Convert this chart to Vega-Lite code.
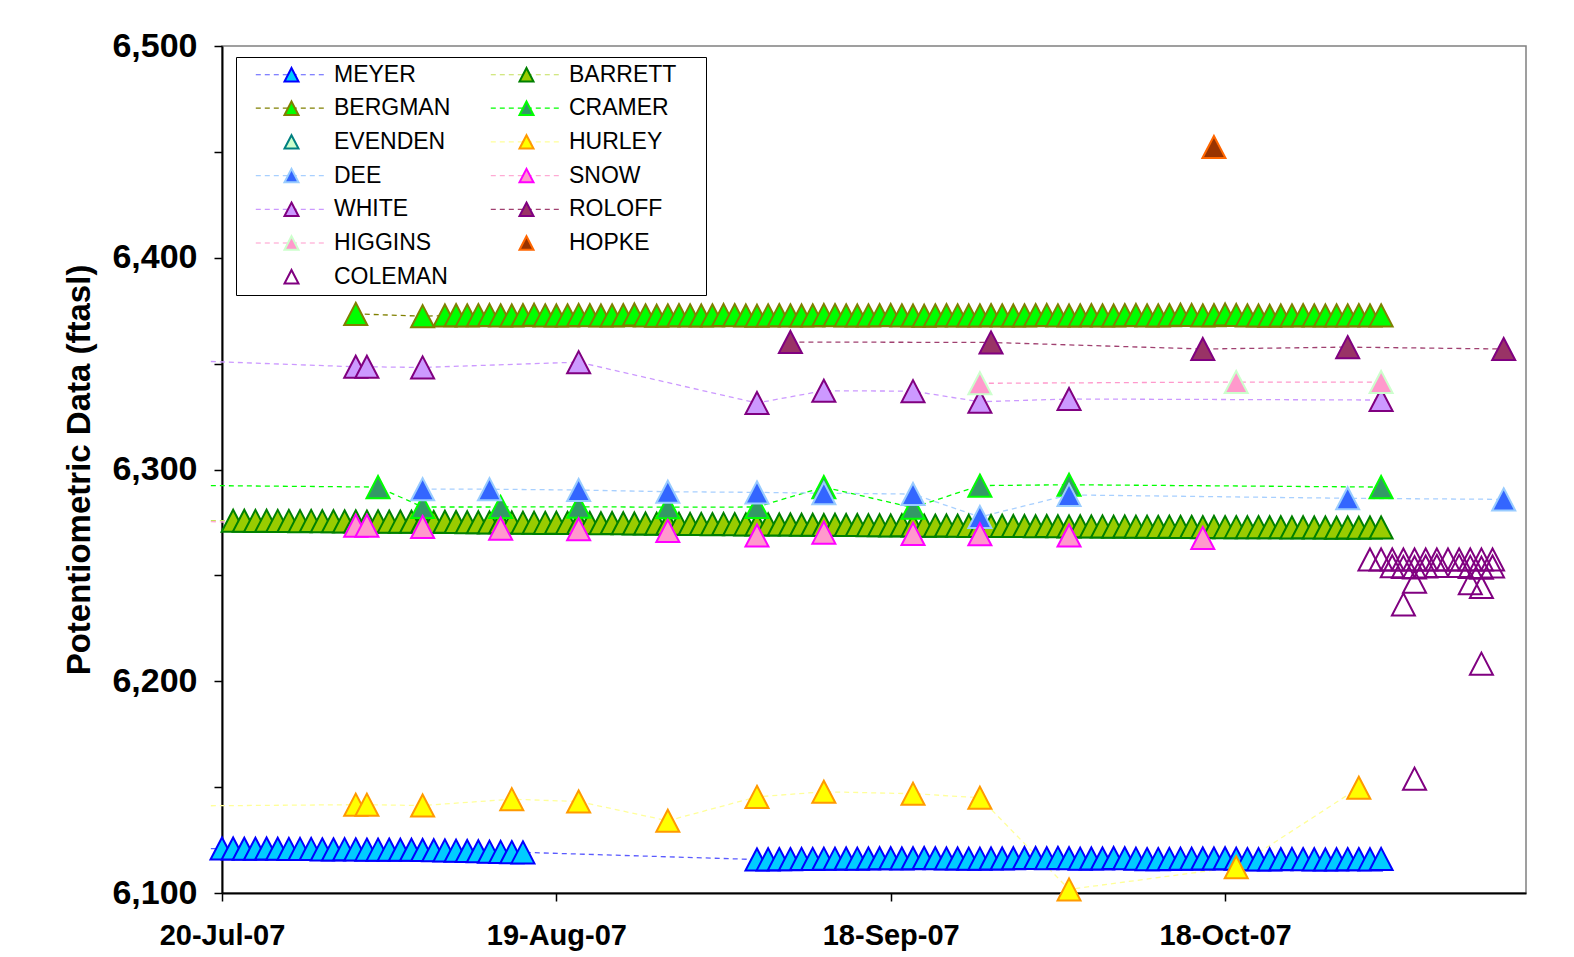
{
  "$schema": "https://vega.github.io/schema/vega-lite/v6.json",
  "width": 1304,
  "height": 847,
  "autosize": {"type": "none"},
  "padding": {"left": 222, "top": 46, "right": 48, "bottom": 64},
  "background": "white",
  "data": {"values": [
    {"well":"MEYER","date":"2007-07-19","level":6121.0},
    {"well":"MEYER","date":"2007-07-20","level":6121.0},
    {"well":"MEYER","date":"2007-07-21","level":6121.0},
    {"well":"MEYER","date":"2007-07-22","level":6120.9},
    {"well":"MEYER","date":"2007-07-23","level":6120.9},
    {"well":"MEYER","date":"2007-07-24","level":6121.0},
    {"well":"MEYER","date":"2007-07-25","level":6120.9},
    {"well":"MEYER","date":"2007-07-26","level":6120.8},
    {"well":"MEYER","date":"2007-07-27","level":6120.8},
    {"well":"MEYER","date":"2007-07-28","level":6120.8},
    {"well":"MEYER","date":"2007-07-29","level":6120.6},
    {"well":"MEYER","date":"2007-07-30","level":6120.6},
    {"well":"MEYER","date":"2007-07-31","level":6120.7},
    {"well":"MEYER","date":"2007-08-01","level":6120.6},
    {"well":"MEYER","date":"2007-08-02","level":6120.5},
    {"well":"MEYER","date":"2007-08-03","level":6120.5},
    {"well":"MEYER","date":"2007-08-04","level":6120.5},
    {"well":"MEYER","date":"2007-08-05","level":6120.4},
    {"well":"MEYER","date":"2007-08-06","level":6120.4},
    {"well":"MEYER","date":"2007-08-07","level":6120.3},
    {"well":"MEYER","date":"2007-08-08","level":6120.2},
    {"well":"MEYER","date":"2007-08-09","level":6120.1},
    {"well":"MEYER","date":"2007-08-10","level":6120.0},
    {"well":"MEYER","date":"2007-08-11","level":6119.8},
    {"well":"MEYER","date":"2007-08-12","level":6119.7},
    {"well":"MEYER","date":"2007-08-13","level":6119.5},
    {"well":"MEYER","date":"2007-08-14","level":6119.4},
    {"well":"MEYER","date":"2007-08-15","level":6119.3},
    {"well":"MEYER","date":"2007-08-16","level":6119.2},
    {"well":"MEYER","date":"2007-09-06","level":6115.8},
    {"well":"MEYER","date":"2007-09-07","level":6115.9},
    {"well":"MEYER","date":"2007-09-08","level":6116.0},
    {"well":"MEYER","date":"2007-09-09","level":6116.0},
    {"well":"MEYER","date":"2007-09-10","level":6116.1},
    {"well":"MEYER","date":"2007-09-11","level":6116.1},
    {"well":"MEYER","date":"2007-09-12","level":6116.2},
    {"well":"MEYER","date":"2007-09-13","level":6116.2},
    {"well":"MEYER","date":"2007-09-14","level":6116.3},
    {"well":"MEYER","date":"2007-09-15","level":6116.2},
    {"well":"MEYER","date":"2007-09-16","level":6116.3},
    {"well":"MEYER","date":"2007-09-17","level":6116.4},
    {"well":"MEYER","date":"2007-09-18","level":6116.4},
    {"well":"MEYER","date":"2007-09-19","level":6116.3},
    {"well":"MEYER","date":"2007-09-20","level":6116.4},
    {"well":"MEYER","date":"2007-09-21","level":6116.5},
    {"well":"MEYER","date":"2007-09-22","level":6116.4},
    {"well":"MEYER","date":"2007-09-23","level":6116.3},
    {"well":"MEYER","date":"2007-09-24","level":6116.3},
    {"well":"MEYER","date":"2007-09-25","level":6116.2},
    {"well":"MEYER","date":"2007-09-26","level":6116.2},
    {"well":"MEYER","date":"2007-09-27","level":6116.3},
    {"well":"MEYER","date":"2007-09-28","level":6116.3},
    {"well":"MEYER","date":"2007-09-29","level":6116.4},
    {"well":"MEYER","date":"2007-09-30","level":6116.5},
    {"well":"MEYER","date":"2007-10-01","level":6116.5},
    {"well":"MEYER","date":"2007-10-02","level":6116.4},
    {"well":"MEYER","date":"2007-10-03","level":6116.6},
    {"well":"MEYER","date":"2007-10-04","level":6116.4},
    {"well":"MEYER","date":"2007-10-05","level":6116.2},
    {"well":"MEYER","date":"2007-10-06","level":6116.3},
    {"well":"MEYER","date":"2007-10-07","level":6116.3},
    {"well":"MEYER","date":"2007-10-08","level":6116.5},
    {"well":"MEYER","date":"2007-10-09","level":6116.4},
    {"well":"MEYER","date":"2007-10-10","level":6116.2},
    {"well":"MEYER","date":"2007-10-11","level":6116.0},
    {"well":"MEYER","date":"2007-10-12","level":6116.0},
    {"well":"MEYER","date":"2007-10-13","level":6116.1},
    {"well":"MEYER","date":"2007-10-14","level":6116.2},
    {"well":"MEYER","date":"2007-10-15","level":6116.2},
    {"well":"MEYER","date":"2007-10-16","level":6116.3},
    {"well":"MEYER","date":"2007-10-17","level":6116.3},
    {"well":"MEYER","date":"2007-10-18","level":6116.4},
    {"well":"MEYER","date":"2007-10-19","level":6116.2},
    {"well":"MEYER","date":"2007-10-20","level":6116.0},
    {"well":"MEYER","date":"2007-10-21","level":6115.9},
    {"well":"MEYER","date":"2007-10-22","level":6115.9},
    {"well":"MEYER","date":"2007-10-23","level":6116.0},
    {"well":"MEYER","date":"2007-10-24","level":6116.1},
    {"well":"MEYER","date":"2007-10-25","level":6116.0},
    {"well":"MEYER","date":"2007-10-26","level":6115.9},
    {"well":"MEYER","date":"2007-10-27","level":6115.8},
    {"well":"MEYER","date":"2007-10-28","level":6115.9},
    {"well":"MEYER","date":"2007-10-29","level":6116.0},
    {"well":"MEYER","date":"2007-10-30","level":6116.0},
    {"well":"MEYER","date":"2007-10-31","level":6115.9},
    {"well":"MEYER","date":"2007-11-01","level":6116.1},
    {"well":"BARRETT","date":"2007-07-19","level":6275.9},
    {"well":"BARRETT","date":"2007-07-21","level":6275.8},
    {"well":"BARRETT","date":"2007-07-22","level":6275.8},
    {"well":"BARRETT","date":"2007-07-23","level":6275.7},
    {"well":"BARRETT","date":"2007-07-24","level":6275.8},
    {"well":"BARRETT","date":"2007-07-25","level":6275.7},
    {"well":"BARRETT","date":"2007-07-26","level":6275.7},
    {"well":"BARRETT","date":"2007-07-27","level":6275.6},
    {"well":"BARRETT","date":"2007-07-28","level":6275.7},
    {"well":"BARRETT","date":"2007-07-29","level":6275.6},
    {"well":"BARRETT","date":"2007-07-30","level":6275.6},
    {"well":"BARRETT","date":"2007-07-31","level":6275.5},
    {"well":"BARRETT","date":"2007-08-01","level":6275.5},
    {"well":"BARRETT","date":"2007-08-02","level":6275.4},
    {"well":"BARRETT","date":"2007-08-03","level":6275.5},
    {"well":"BARRETT","date":"2007-08-04","level":6275.4},
    {"well":"BARRETT","date":"2007-08-05","level":6275.4},
    {"well":"BARRETT","date":"2007-08-06","level":6275.3},
    {"well":"BARRETT","date":"2007-08-07","level":6275.3},
    {"well":"BARRETT","date":"2007-08-08","level":6275.2},
    {"well":"BARRETT","date":"2007-08-09","level":6275.3},
    {"well":"BARRETT","date":"2007-08-10","level":6275.2},
    {"well":"BARRETT","date":"2007-08-11","level":6275.1},
    {"well":"BARRETT","date":"2007-08-12","level":6275.1},
    {"well":"BARRETT","date":"2007-08-13","level":6275.0},
    {"well":"BARRETT","date":"2007-08-14","level":6275.1},
    {"well":"BARRETT","date":"2007-08-15","level":6275.0},
    {"well":"BARRETT","date":"2007-08-16","level":6274.9},
    {"well":"BARRETT","date":"2007-08-17","level":6274.9},
    {"well":"BARRETT","date":"2007-08-18","level":6274.8},
    {"well":"BARRETT","date":"2007-08-19","level":6274.9},
    {"well":"BARRETT","date":"2007-08-20","level":6274.8},
    {"well":"BARRETT","date":"2007-08-21","level":6274.7},
    {"well":"BARRETT","date":"2007-08-22","level":6274.7},
    {"well":"BARRETT","date":"2007-08-23","level":6274.6},
    {"well":"BARRETT","date":"2007-08-24","level":6274.7},
    {"well":"BARRETT","date":"2007-08-25","level":6274.6},
    {"well":"BARRETT","date":"2007-08-26","level":6274.5},
    {"well":"BARRETT","date":"2007-08-27","level":6274.5},
    {"well":"BARRETT","date":"2007-08-28","level":6274.4},
    {"well":"BARRETT","date":"2007-08-29","level":6274.5},
    {"well":"BARRETT","date":"2007-08-30","level":6274.4},
    {"well":"BARRETT","date":"2007-08-31","level":6274.3},
    {"well":"BARRETT","date":"2007-09-01","level":6274.3},
    {"well":"BARRETT","date":"2007-09-02","level":6274.2},
    {"well":"BARRETT","date":"2007-09-03","level":6274.3},
    {"well":"BARRETT","date":"2007-09-04","level":6274.2},
    {"well":"BARRETT","date":"2007-09-05","level":6274.1},
    {"well":"BARRETT","date":"2007-09-06","level":6274.0},
    {"well":"BARRETT","date":"2007-09-07","level":6274.1},
    {"well":"BARRETT","date":"2007-09-08","level":6274.0},
    {"well":"BARRETT","date":"2007-09-09","level":6274.0},
    {"well":"BARRETT","date":"2007-09-10","level":6273.9},
    {"well":"BARRETT","date":"2007-09-11","level":6273.9},
    {"well":"BARRETT","date":"2007-09-12","level":6273.8},
    {"well":"BARRETT","date":"2007-09-13","level":6273.9},
    {"well":"BARRETT","date":"2007-09-14","level":6273.8},
    {"well":"BARRETT","date":"2007-09-15","level":6273.8},
    {"well":"BARRETT","date":"2007-09-16","level":6273.7},
    {"well":"BARRETT","date":"2007-09-17","level":6273.7},
    {"well":"BARRETT","date":"2007-09-18","level":6273.6},
    {"well":"BARRETT","date":"2007-09-19","level":6273.7},
    {"well":"BARRETT","date":"2007-09-20","level":6273.6},
    {"well":"BARRETT","date":"2007-09-21","level":6273.5},
    {"well":"BARRETT","date":"2007-09-22","level":6273.5},
    {"well":"BARRETT","date":"2007-09-23","level":6273.6},
    {"well":"BARRETT","date":"2007-09-24","level":6273.5},
    {"well":"BARRETT","date":"2007-09-25","level":6273.4},
    {"well":"BARRETT","date":"2007-09-26","level":6273.4},
    {"well":"BARRETT","date":"2007-09-27","level":6273.3},
    {"well":"BARRETT","date":"2007-09-28","level":6273.4},
    {"well":"BARRETT","date":"2007-09-29","level":6273.3},
    {"well":"BARRETT","date":"2007-09-30","level":6273.3},
    {"well":"BARRETT","date":"2007-10-01","level":6273.2},
    {"well":"BARRETT","date":"2007-10-02","level":6273.3},
    {"well":"BARRETT","date":"2007-10-03","level":6273.2},
    {"well":"BARRETT","date":"2007-10-04","level":6273.1},
    {"well":"BARRETT","date":"2007-10-05","level":6273.2},
    {"well":"BARRETT","date":"2007-10-06","level":6273.1},
    {"well":"BARRETT","date":"2007-10-07","level":6273.1},
    {"well":"BARRETT","date":"2007-10-08","level":6273.0},
    {"well":"BARRETT","date":"2007-10-09","level":6273.1},
    {"well":"BARRETT","date":"2007-10-10","level":6273.0},
    {"well":"BARRETT","date":"2007-10-11","level":6273.0},
    {"well":"BARRETT","date":"2007-10-12","level":6272.9},
    {"well":"BARRETT","date":"2007-10-13","level":6273.0},
    {"well":"BARRETT","date":"2007-10-14","level":6272.9},
    {"well":"BARRETT","date":"2007-10-15","level":6272.9},
    {"well":"BARRETT","date":"2007-10-16","level":6272.8},
    {"well":"BARRETT","date":"2007-10-17","level":6272.9},
    {"well":"BARRETT","date":"2007-10-18","level":6272.8},
    {"well":"BARRETT","date":"2007-10-19","level":6272.8},
    {"well":"BARRETT","date":"2007-10-20","level":6272.7},
    {"well":"BARRETT","date":"2007-10-21","level":6272.8},
    {"well":"BARRETT","date":"2007-10-22","level":6272.7},
    {"well":"BARRETT","date":"2007-10-23","level":6272.7},
    {"well":"BARRETT","date":"2007-10-24","level":6272.6},
    {"well":"BARRETT","date":"2007-10-25","level":6272.7},
    {"well":"BARRETT","date":"2007-10-26","level":6272.6},
    {"well":"BARRETT","date":"2007-10-27","level":6272.6},
    {"well":"BARRETT","date":"2007-10-28","level":6272.5},
    {"well":"BARRETT","date":"2007-10-29","level":6272.6},
    {"well":"BARRETT","date":"2007-10-30","level":6272.5},
    {"well":"BARRETT","date":"2007-10-31","level":6272.6},
    {"well":"BARRETT","date":"2007-11-01","level":6272.6},
    {"well":"BERGMAN","date":"2007-08-01","level":6373.5},
    {"well":"BERGMAN","date":"2007-08-07","level":6372.4},
    {"well":"BERGMAN","date":"2007-08-09","level":6372.7},
    {"well":"BERGMAN","date":"2007-08-10","level":6372.9},
    {"well":"BERGMAN","date":"2007-08-11","level":6372.8},
    {"well":"BERGMAN","date":"2007-08-12","level":6372.9},
    {"well":"BERGMAN","date":"2007-08-13","level":6373.0},
    {"well":"BERGMAN","date":"2007-08-14","level":6372.8},
    {"well":"BERGMAN","date":"2007-08-15","level":6372.7},
    {"well":"BERGMAN","date":"2007-08-16","level":6372.9},
    {"well":"BERGMAN","date":"2007-08-17","level":6373.1},
    {"well":"BERGMAN","date":"2007-08-18","level":6372.8},
    {"well":"BERGMAN","date":"2007-08-19","level":6372.7},
    {"well":"BERGMAN","date":"2007-08-20","level":6372.8},
    {"well":"BERGMAN","date":"2007-08-21","level":6373.0},
    {"well":"BERGMAN","date":"2007-08-22","level":6372.9},
    {"well":"BERGMAN","date":"2007-08-23","level":6372.7},
    {"well":"BERGMAN","date":"2007-08-24","level":6372.8},
    {"well":"BERGMAN","date":"2007-08-25","level":6372.9},
    {"well":"BERGMAN","date":"2007-08-26","level":6373.2},
    {"well":"BERGMAN","date":"2007-08-27","level":6372.8},
    {"well":"BERGMAN","date":"2007-08-28","level":6372.6},
    {"well":"BERGMAN","date":"2007-08-29","level":6372.8},
    {"well":"BERGMAN","date":"2007-08-30","level":6372.9},
    {"well":"BERGMAN","date":"2007-08-31","level":6372.8},
    {"well":"BERGMAN","date":"2007-09-01","level":6372.7},
    {"well":"BERGMAN","date":"2007-09-02","level":6372.8},
    {"well":"BERGMAN","date":"2007-09-03","level":6373.0},
    {"well":"BERGMAN","date":"2007-09-04","level":6372.9},
    {"well":"BERGMAN","date":"2007-09-05","level":6372.7},
    {"well":"BERGMAN","date":"2007-09-06","level":6372.6},
    {"well":"BERGMAN","date":"2007-09-07","level":6372.8},
    {"well":"BERGMAN","date":"2007-09-08","level":6372.9},
    {"well":"BERGMAN","date":"2007-09-09","level":6372.8},
    {"well":"BERGMAN","date":"2007-09-10","level":6372.7},
    {"well":"BERGMAN","date":"2007-09-11","level":6372.8},
    {"well":"BERGMAN","date":"2007-09-12","level":6373.0},
    {"well":"BERGMAN","date":"2007-09-13","level":6372.9},
    {"well":"BERGMAN","date":"2007-09-14","level":6372.8},
    {"well":"BERGMAN","date":"2007-09-15","level":6372.7},
    {"well":"BERGMAN","date":"2007-09-16","level":6372.8},
    {"well":"BERGMAN","date":"2007-09-17","level":6372.9},
    {"well":"BERGMAN","date":"2007-09-18","level":6373.0},
    {"well":"BERGMAN","date":"2007-09-19","level":6372.8},
    {"well":"BERGMAN","date":"2007-09-20","level":6372.7},
    {"well":"BERGMAN","date":"2007-09-21","level":6372.6},
    {"well":"BERGMAN","date":"2007-09-22","level":6372.8},
    {"well":"BERGMAN","date":"2007-09-23","level":6372.9},
    {"well":"BERGMAN","date":"2007-09-24","level":6372.8},
    {"well":"BERGMAN","date":"2007-09-25","level":6372.7},
    {"well":"BERGMAN","date":"2007-09-26","level":6372.8},
    {"well":"BERGMAN","date":"2007-09-27","level":6372.9},
    {"well":"BERGMAN","date":"2007-09-28","level":6372.8},
    {"well":"BERGMAN","date":"2007-09-29","level":6372.7},
    {"well":"BERGMAN","date":"2007-09-30","level":6372.8},
    {"well":"BERGMAN","date":"2007-10-01","level":6372.9},
    {"well":"BERGMAN","date":"2007-10-02","level":6373.0},
    {"well":"BERGMAN","date":"2007-10-03","level":6372.8},
    {"well":"BERGMAN","date":"2007-10-04","level":6372.7},
    {"well":"BERGMAN","date":"2007-10-05","level":6372.8},
    {"well":"BERGMAN","date":"2007-10-06","level":6372.9},
    {"well":"BERGMAN","date":"2007-10-07","level":6372.8},
    {"well":"BERGMAN","date":"2007-10-08","level":6372.7},
    {"well":"BERGMAN","date":"2007-10-09","level":6372.9},
    {"well":"BERGMAN","date":"2007-10-10","level":6373.0},
    {"well":"BERGMAN","date":"2007-10-11","level":6372.8},
    {"well":"BERGMAN","date":"2007-10-12","level":6372.8},
    {"well":"BERGMAN","date":"2007-10-13","level":6372.9},
    {"well":"BERGMAN","date":"2007-10-14","level":6373.1},
    {"well":"BERGMAN","date":"2007-10-15","level":6373.0},
    {"well":"BERGMAN","date":"2007-10-16","level":6372.8},
    {"well":"BERGMAN","date":"2007-10-17","level":6372.9},
    {"well":"BERGMAN","date":"2007-10-18","level":6373.2},
    {"well":"BERGMAN","date":"2007-10-19","level":6373.0},
    {"well":"BERGMAN","date":"2007-10-20","level":6372.8},
    {"well":"BERGMAN","date":"2007-10-21","level":6372.7},
    {"well":"BERGMAN","date":"2007-10-22","level":6372.6},
    {"well":"BERGMAN","date":"2007-10-23","level":6372.7},
    {"well":"BERGMAN","date":"2007-10-24","level":6372.8},
    {"well":"BERGMAN","date":"2007-10-25","level":6372.9},
    {"well":"BERGMAN","date":"2007-10-26","level":6372.8},
    {"well":"BERGMAN","date":"2007-10-27","level":6372.7},
    {"well":"BERGMAN","date":"2007-10-28","level":6372.8},
    {"well":"BERGMAN","date":"2007-10-29","level":6372.8},
    {"well":"BERGMAN","date":"2007-10-30","level":6372.9},
    {"well":"BERGMAN","date":"2007-10-31","level":6372.8},
    {"well":"BERGMAN","date":"2007-11-01","level":6372.8},
    {"well":"CRAMER","date":"2007-07-19","level":6292.4},
    {"well":"CRAMER","date":"2007-08-03","level":6291.7},
    {"well":"CRAMER","date":"2007-08-07","level":6282.3},
    {"well":"CRAMER","date":"2007-08-14","level":6282.3},
    {"well":"CRAMER","date":"2007-08-21","level":6282.4},
    {"well":"CRAMER","date":"2007-08-29","level":6282.2},
    {"well":"CRAMER","date":"2007-09-06","level":6282.3},
    {"well":"CRAMER","date":"2007-09-12","level":6291.7},
    {"well":"CRAMER","date":"2007-09-20","level":6282.0},
    {"well":"CRAMER","date":"2007-09-26","level":6292.4},
    {"well":"CRAMER","date":"2007-10-04","level":6292.8},
    {"well":"CRAMER","date":"2007-11-01","level":6291.7},
    {"well":"HURLEY","date":"2007-07-19","level":6141.2},
    {"well":"HURLEY","date":"2007-08-01","level":6141.7},
    {"well":"HURLEY","date":"2007-08-02","level":6141.7},
    {"well":"HURLEY","date":"2007-08-07","level":6141.3},
    {"well":"HURLEY","date":"2007-08-15","level":6144.3},
    {"well":"HURLEY","date":"2007-08-21","level":6143.2},
    {"well":"HURLEY","date":"2007-08-29","level":6134.1},
    {"well":"HURLEY","date":"2007-09-06","level":6145.4},
    {"well":"HURLEY","date":"2007-09-12","level":6147.8},
    {"well":"HURLEY","date":"2007-09-20","level":6146.9},
    {"well":"HURLEY","date":"2007-09-26","level":6145.0},
    {"well":"HURLEY","date":"2007-10-04","level":6101.7},
    {"well":"HURLEY","date":"2007-10-19","level":6112.2},
    {"well":"HURLEY","date":"2007-10-30","level":6149.7},
    {"well":"DEE","date":"2007-08-07","level":6290.7},
    {"well":"DEE","date":"2007-08-13","level":6290.7},
    {"well":"DEE","date":"2007-08-21","level":6290.3},
    {"well":"DEE","date":"2007-08-29","level":6289.5},
    {"well":"DEE","date":"2007-09-06","level":6289.2},
    {"well":"DEE","date":"2007-09-12","level":6288.8},
    {"well":"DEE","date":"2007-09-20","level":6288.4},
    {"well":"DEE","date":"2007-09-26","level":6277.6},
    {"well":"DEE","date":"2007-10-04","level":6288.0},
    {"well":"DEE","date":"2007-10-29","level":6286.4},
    {"well":"DEE","date":"2007-11-12","level":6285.9},
    {"well":"SNOW","date":"2007-07-19","level":6275.4},
    {"well":"SNOW","date":"2007-08-01","level":6273.5},
    {"well":"SNOW","date":"2007-08-02","level":6273.5},
    {"well":"SNOW","date":"2007-08-07","level":6272.9},
    {"well":"SNOW","date":"2007-08-14","level":6272.1},
    {"well":"SNOW","date":"2007-08-21","level":6271.8},
    {"well":"SNOW","date":"2007-08-29","level":6271.0},
    {"well":"SNOW","date":"2007-09-06","level":6268.8},
    {"well":"SNOW","date":"2007-09-12","level":6270.2},
    {"well":"SNOW","date":"2007-09-20","level":6269.6},
    {"well":"SNOW","date":"2007-09-26","level":6269.4},
    {"well":"SNOW","date":"2007-10-04","level":6268.8},
    {"well":"SNOW","date":"2007-10-16","level":6267.7},
    {"well":"WHITE","date":"2007-07-19","level":6351.0},
    {"well":"WHITE","date":"2007-08-01","level":6348.5},
    {"well":"WHITE","date":"2007-08-02","level":6348.5},
    {"well":"WHITE","date":"2007-08-07","level":6348.2},
    {"well":"WHITE","date":"2007-08-21","level":6350.7},
    {"well":"WHITE","date":"2007-09-06","level":6331.4},
    {"well":"WHITE","date":"2007-09-12","level":6337.2},
    {"well":"WHITE","date":"2007-09-20","level":6337.0},
    {"well":"WHITE","date":"2007-09-26","level":6332.0},
    {"well":"WHITE","date":"2007-10-04","level":6333.3},
    {"well":"WHITE","date":"2007-11-01","level":6332.8},
    {"well":"ROLOFF","date":"2007-09-09","level":6360.2},
    {"well":"ROLOFF","date":"2007-09-27","level":6360.0},
    {"well":"ROLOFF","date":"2007-10-16","level":6356.9},
    {"well":"ROLOFF","date":"2007-10-29","level":6357.8},
    {"well":"ROLOFF","date":"2007-11-12","level":6356.9},
    {"well":"HIGGINS","date":"2007-09-26","level":6340.7},
    {"well":"HIGGINS","date":"2007-10-19","level":6341.3},
    {"well":"HIGGINS","date":"2007-11-01","level":6341.3},
    {"well":"HOPKE","date":"2007-10-17","level":6452.3},
    {"well":"COLEMAN","date":"2007-10-31","level":6257.5},
    {"well":"COLEMAN","date":"2007-11-01","level":6257.5},
    {"well":"COLEMAN","date":"2007-11-02","level":6257.5},
    {"well":"COLEMAN","date":"2007-11-03","level":6257.5},
    {"well":"COLEMAN","date":"2007-11-04","level":6257.5},
    {"well":"COLEMAN","date":"2007-11-05","level":6257.5},
    {"well":"COLEMAN","date":"2007-11-06","level":6257.5},
    {"well":"COLEMAN","date":"2007-11-07","level":6257.5},
    {"well":"COLEMAN","date":"2007-11-08","level":6257.5},
    {"well":"COLEMAN","date":"2007-11-09","level":6257.5},
    {"well":"COLEMAN","date":"2007-11-10","level":6257.5},
    {"well":"COLEMAN","date":"2007-11-11","level":6257.5},
    {"well":"COLEMAN","date":"2007-11-02","level":6254.3},
    {"well":"COLEMAN","date":"2007-11-03","level":6254.0},
    {"well":"COLEMAN","date":"2007-11-04","level":6253.8},
    {"well":"COLEMAN","date":"2007-11-05","level":6254.2},
    {"well":"COLEMAN","date":"2007-11-06","level":6254.5},
    {"well":"COLEMAN","date":"2007-11-08","level":6254.5},
    {"well":"COLEMAN","date":"2007-11-09","level":6254.0},
    {"well":"COLEMAN","date":"2007-11-10","level":6253.6},
    {"well":"COLEMAN","date":"2007-11-11","level":6254.2},
    {"well":"COLEMAN","date":"2007-11-03","level":6236.3},
    {"well":"COLEMAN","date":"2007-11-04","level":6247.0},
    {"well":"COLEMAN","date":"2007-11-04","level":6154.0},
    {"well":"COLEMAN","date":"2007-11-09","level":6246.3},
    {"well":"COLEMAN","date":"2007-11-10","level":6244.5},
    {"well":"COLEMAN","date":"2007-11-10","level":6208.3}
  ]},
  "encoding": {
    "x": {
      "field": "date", "type": "temporal",
      "scale": {"type": "utc", "domain": [{"year": 2007, "month": 7, "date": 20, "utc": true}, {"year": 2007, "month": 11, "date": 14, "utc": true}]},
      "axis": {
        "values": [
          {"year": 2007, "month": 7, "date": 20, "utc": true},
          {"year": 2007, "month": 8, "date": 19, "utc": true},
          {"year": 2007, "month": 9, "date": 18, "utc": true},
          {"year": 2007, "month": 10, "date": 18, "utc": true}
        ],
        "format": "%d-%b-%y",
        "title": null,
        "grid": false,
        "labelFont": "Liberation Sans", "labelFontWeight": "bold", "labelFontSize": 29, "labelColor": "black",
        "labelPadding": 20, "labelFlush": false, "labelOverlap": false,
        "tickColor": "black", "tickSize": 8, "tickWidth": 1.5,
        "domainColor": "black", "domainWidth": 2
      }
    },
    "y": {
      "field": "level", "type": "quantitative",
      "scale": {"domain": [6100, 6500], "nice": false, "zero": false},
      "axis": {
        "values": [6100, 6150, 6200, 6250, 6300, 6350, 6400, 6450, 6500],
        "format": ",d",
        "labelExpr": "datum.value % 100 == 0 ? datum.label : ''",
        "title": "Potentiometric Data (ftasl)",
        "titleFont": "Liberation Sans", "titleFontWeight": "bold", "titleFontSize": 33, "titleColor": "black", "titlePadding": 15,
        "grid": false,
        "labelFont": "Liberation Sans", "labelFontWeight": "bold", "labelFontSize": 34, "labelColor": "black",
        "labelPadding": 17,
        "tickColor": "black", "tickSize": 8, "tickWidth": 1.5,
        "domainColor": "black", "domainWidth": 2
      }
    }
  },
  "layer": [
    {
      "transform": [{"filter": {"field": "well", "oneOf": ["MEYER", "BARRETT", "BERGMAN", "CRAMER", "HURLEY", "DEE", "SNOW", "WHITE", "ROLOFF", "HIGGINS"]}}],
      "mark": {"type": "line", "strokeDash": [5, 4], "strokeWidth": 1.3, "clip": false},
      "encoding": {
        "color": {
          "field": "well", "type": "nominal",
          "scale": {
            "domain": ["MEYER", "BERGMAN", "EVENDEN", "DEE", "WHITE", "HIGGINS", "COLEMAN", "BARRETT", "CRAMER", "HURLEY", "SNOW", "ROLOFF", "HOPKE", " "],
            "range": ["#5a5aff", "#808000", "transparent", "#a8d0ff", "#cc99ff", "#ff99cc", "transparent", "#c4e05a", "#00ff00", "#ffff99", "#ffaad4", "#a04070", "transparent", "transparent"]
          },
          "legend": {
            "orient": "none", "legendX": 14, "legendY": 11, "columns": 2, "title": null,
            "symbolType": "M-5.1,0H5.1", "symbolSize": 196, "symbolStrokeWidth": 1.2, "symbolDash": [5, 4], "symbolOffset": 38, "symbolOpacity": 1,
            "labelOffset": 31, "labelFontSize": 23, "labelFont": "Liberation Sans", "labelOpacity": 0, "labelLimit": 400,
            "labelExpr": "datum.value == ' ' ? 'WWWWWW' : datum.label",
            "rowPadding": 9.7, "columnPadding": 26, "padding": 6,
            "strokeColor": "black", "fillColor": "transparent"
          }
        }
      }
    },
    {
      "transform": [{"filter": "datum.date >= utc(2007, 6, 20)"}],
      "mark": {"type": "point", "shape": "M0,-0.96L1,0.96L-1,0.96Z", "size": 530, "filled": true, "opacity": 1, "strokeWidth": 2, "clip": false},
      "encoding": {
        "fill": {
          "field": "well", "type": "nominal",
          "scale": {
            "domain": ["MEYER", "BERGMAN", "EVENDEN", "DEE", "WHITE", "HIGGINS", "COLEMAN", "BARRETT", "CRAMER", "HURLEY", "SNOW", "ROLOFF", "HOPKE"],
            "range": ["#00ccff", "#00ff00", "#ccffcc", "#3366ff", "#cc99ff", "#ff99cc", "transparent", "#99cc00", "#339966", "#ffff00", "#ff99cc", "#993366", "#993300"]
          },
          "legend": {
            "orient": "none", "legendX": 14, "legendY": 11, "columns": 2, "title": null,
            "symbolType": "M0,-0.96L1,0.96L-1,0.96Z", "symbolSize": 196, "symbolStrokeWidth": 2, "symbolOffset": 38, "symbolOpacity": 1,
            "labelOffset": 31, "labelFontSize": 23, "labelFont": "Liberation Sans", "labelColor": "black", "labelLimit": 400,
            "rowPadding": 9.7, "columnPadding": 26, "padding": 6
          }
        },
        "stroke": {
          "field": "well", "type": "nominal",
          "scale": {
            "domain": ["MEYER", "BERGMAN", "EVENDEN", "DEE", "WHITE", "HIGGINS", "COLEMAN", "BARRETT", "CRAMER", "HURLEY", "SNOW", "ROLOFF", "HOPKE"],
            "range": ["#0000ff", "#808000", "#008080", "#99ccff", "#800080", "#ccffcc", "#800080", "#008000", "#00ff00", "#ff9900", "#ff00ff", "#800080", "#ff6600"]
          },
          "legend": {
            "orient": "none", "legendX": 14, "legendY": 11, "columns": 2, "title": null,
            "symbolType": "M0,-0.96L1,0.96L-1,0.96Z", "symbolSize": 196, "symbolStrokeWidth": 2, "symbolOffset": 38, "symbolOpacity": 1,
            "labelOffset": 31, "labelFontSize": 23, "labelFont": "Liberation Sans", "labelColor": "black", "labelLimit": 400,
            "rowPadding": 9.7, "columnPadding": 26, "padding": 6
          }
        }
      }
    }
  ],
  "config": {
    "view": {"stroke": "#808080", "strokeWidth": 1.5},
    "font": "Liberation Sans"
  }
}
